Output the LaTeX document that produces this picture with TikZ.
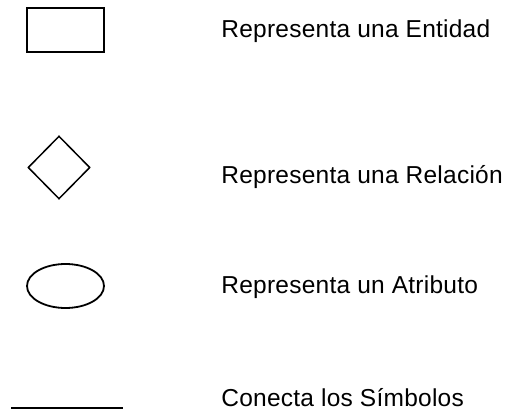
\documentclass[tikz,border=0pt]{standalone}
\usepackage{fontspec}
\setmainfont[LetterSpace=1]{Liberation Sans}
\usetikzlibrary{shapes.geometric}

\begin{document}
\begin{tikzpicture}[x=1pt, y=-1pt, thick,
    entidad/.style = {draw, rectangle, line width=2pt, inner sep=0pt, minimum width=77pt, minimum height=44pt},
    relacion/.style = {draw, diamond, line width=1.5pt, inner sep=0pt, minimum width=62pt, minimum height=63pt},
    atributo/.style = {draw, ellipse, line width=1.8pt, inner sep=0pt, minimum width=77pt, minimum height=44pt},
    texto/.style = {anchor=base west, inner sep=0pt, font=\fontsize{24.5}{29}\selectfont}]
      \useasboundingbox (0,0) rectangle (507,412);

      \node[entidad] (ent) at (65.5,30) {};
      \node[relacion] (rel) at (59,167.5) {};
      \node[atributo] (atr) at (65.5,286) {};
      \coordinate (c1) at (11,408);
      \coordinate (c2) at (123,408);

      \node[texto] (tent) at (221,38) {Representa una Entidad};
      \node[texto] (trel) at (221,183) {Representa una Relación};
      \node[texto] (tatr) at (221,293) {Representa un Atributo};
      \node[texto] (tcon) at (221,406) {Conecta los Símbolos};

      \draw[-] [line width=2.5pt] (c1) -- (c2);
      \end{tikzpicture}
\end{document}
